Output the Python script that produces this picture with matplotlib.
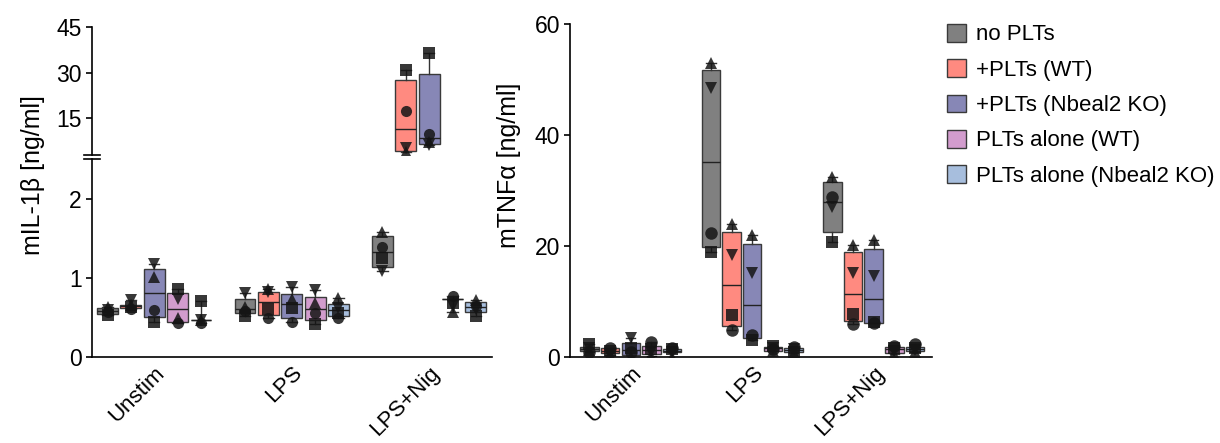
import numpy as np
import matplotlib
matplotlib.use("Agg")
import matplotlib.pyplot as plt
from matplotlib.patches import Patch

plt.rcParams['font.family'] = ['Liberation Sans', 'DejaVu Sans']

conditions = ['Unstim', 'LPS', 'LPS+Nig']
groups = ['no PLTs', '+PLTs (WT)', '+PLTs (Nbeal2 KO)', 'PLTs alone (WT)', 'PLTs alone (Nbeal2 KO)']
colors = ['#808080', '#ff8a80', '#8787b6', '#d29ccd', '#a7bedd']

# IL-1b (ng/ml), rows = condition, columns = group
il1b_sq = [[0.53, 0.63, 0.44, 0.86, 0.70],
           [0.51, 0.60, 0.61, 0.41, 0.55],
           [1.25, 30.9, 36.4, 0.68, 0.51]]
il1b_circ = [[0.57, 0.60, 0.59, 0.43, 0.43],
             [0.58, 0.49, 0.44, 0.55, 0.49],
             [1.39, 17.5, 9.8, 0.77, 0.64]]
il1b_up = [[0.63, 0.65, 1.01, 0.49, 0.47],
           [0.63, 0.86, 0.73, 0.68, 0.74],
           [1.58, 4.0, 7.3, 0.56, 0.72]]
il1b_down = [[0.59, 0.72, 1.17, 0.73, 0.46],
             [0.81, 0.82, 0.88, 0.84, 0.62],
             [1.08, 5.1, 6.2, 0.64, 0.60]]
il1b_q1 = [[0.54, 0.62, 0.50, 0.44, 0.465],
           [0.55, 0.53, 0.49, 0.46, 0.51],
           [1.13, 4.3, 6.5, 0.73, 0.56]]
il1b_med = [[0.58, 0.64, 0.80, 0.60, 0.465],
            [0.60, 0.69, 0.67, 0.60, 0.59],
            [1.32, 11.4, 8.6, 0.73, 0.63]]
il1b_q3 = [[0.61, 0.66, 1.11, 0.80, 0.465],
           [0.73, 0.82, 0.79, 0.75, 0.67],
           [1.53, 27.5, 29.6, 0.73, 0.69]]

# TNFa (ng/ml)
tnf_sq = [[2.3, 1.0, 1.5, 1.4, 1.3],
          [18.9, 7.5, 3.0, 1.9, 0.9],
          [20.7, 7.7, 6.3, 1.5, 1.6]]
tnf_circ = [[0.8, 1.6, 0.8, 2.6, 1.5],
            [22.2, 4.8, 3.9, 1.4, 1.7],
            [28.7, 5.9, 6.0, 1.9, 2.2]]
tnf_up = [[1.2, 0.3, 0.0, 0.2, 0.0],
          [52.9, 24.0, 21.9, 1.0, 0.6],
          [32.4, 20.1, 21.0, 0.5, 0.9]]
tnf_down = [[1.5, 0.5, 3.3, 0.8, 0.9],
            [48.4, 18.3, 15.1, 1.6, 1.3],
            [27.0, 15.0, 14.5, 1.0, 1.2]]
tnf_q1 = [[1.0, 0.6, 0.3, 0.4, 0.8],
          [19.8, 5.6, 3.4, 1.1, 0.8],
          [22.4, 6.4, 6.1, 0.7, 1.0]]
tnf_med = [[1.4, 1.1, 1.2, 1.2, 1.1],
           [35.1, 12.9, 9.4, 1.5, 1.2],
           [27.8, 11.3, 10.4, 1.3, 1.4]]
tnf_q3 = [[1.8, 1.5, 2.4, 1.9, 1.3],
          [51.7, 22.5, 20.3, 1.8, 1.6],
          [31.4, 18.8, 19.4, 1.8, 1.8]]

offsets = np.array([-2, -1, 0, 1, 2]) * 0.17
box_w = 0.152
marker_list = ['s', 'o', '^', 'v']


def draw_boxes(ax, sq, circ, up, down, q1, med, q3, ms, ylo, yhi):
    for ci in range(len(conditions)):
        for gi in range(len(groups)):
            pos = ci + offsets[gi]
            pts = [sq[ci][gi], circ[ci][gi], up[ci][gi], down[ci][gi]]
            # skip boxes that lie completely outside this axis range
            if max(pts) < ylo or min(pts) > yhi:
                continue
            st = dict(med=med[ci][gi], q1=q1[ci][gi], q3=q3[ci][gi],
                      whislo=min(pts), whishi=max(pts), fliers=[])
            ax.bxp([st], positions=[pos], widths=box_w, patch_artist=True,
                   showfliers=False, capwidths=box_w * 0.5,
                   boxprops=dict(facecolor=colors[gi], edgecolor='#3a3a3a', linewidth=1),
                   medianprops=dict(color='#222222', linewidth=1),
                   whiskerprops=dict(color='#333333', linewidth=1),
                   capprops=dict(color='#333333', linewidth=1), zorder=2)
            for m, v in zip(marker_list, pts):
                if ylo <= v <= yhi:
                    ax.plot(pos, v, marker=m, color='#151515', alpha=0.85,
                            markersize=ms, markeredgewidth=0, zorder=3)


fig = plt.figure(figsize=(12.2, 4.43), dpi=100)
W, H = 1220, 443

ax_up = fig.add_axes([91.7 / W, 1 - 155 / H, 400 / W, (155 - 27.3) / H])
ax_lo = fig.add_axes([91.7 / W, 1 - 356.7 / H, 400 / W, (356.7 - 159) / H])
ax_r = fig.add_axes([570 / W, 1 - 356.7 / H, 362 / W, (356.7 - 23.7) / H])

draw_boxes(ax_up, il1b_sq, il1b_circ, il1b_up, il1b_down, il1b_q1, il1b_med, il1b_q3, 8, 2.6, 46)
draw_boxes(ax_lo, il1b_sq, il1b_circ, il1b_up, il1b_down, il1b_q1, il1b_med, il1b_q3, 8, -0.1, 2.6)
draw_boxes(ax_r, tnf_sq, tnf_circ, tnf_up, tnf_down, tnf_q1, tnf_med, tnf_q3, 9, -1, 61)
for ax in (ax_up, ax_lo):
    ax.set_xlim(-0.455, 2.455)
ax_r.set_xlim(-0.5, 2.48)
ax_up.set_ylim(2.9, 45)
ax_up.set_yticks([15, 30, 45])
ax_lo.set_ylim(0, 2.5)
ax_lo.set_yticks([0, 1, 2])
ax_r.set_ylim(0, 60)
ax_r.set_yticks([0, 20, 40, 60])

for ax in (ax_up, ax_lo, ax_r):
    for s in ('top', 'right'):
        ax.spines[s].set_visible(False)
    ax.spines['left'].set_linewidth(1.2)
    ax.spines['bottom'].set_linewidth(1.2)
    ax.tick_params(axis='y', labelsize=16.5, length=4, width=1.2, pad=3)
    ax.tick_params(axis='x', length=0, labelsize=16, pad=4)

ax_up.spines['bottom'].set_visible(False)
ax_up.set_xticks([])

for ax in (ax_lo, ax_r):
    ax.set_xticks(range(len(conditions)))
    ax.set_xticklabels(conditions, rotation=45, ha='right', rotation_mode='anchor')

# axis break marks
for ax, ypos in ((ax_up, 0.0), (ax_lo, 1.0)):
    ax.plot([-0.02, 0.02], [ypos, ypos], transform=ax.transAxes,
            color='black', linewidth=1.2, clip_on=False)

fig.text(33 / W, 1 - 175 / H, 'mIL-1\u03b2 [ng/ml]', rotation=90,
         ha='center', va='center', fontsize=18)
ax_r.set_ylabel('mTNF\u03b1 [ng/ml]', fontsize=18)
ax_r.yaxis.set_label_coords((521 - 570) / 362, (356.7 - 165) / 333)

handles = [Patch(facecolor=c, edgecolor='#3a3a3a', linewidth=1) for c in colors]
fig.legend(handles, groups, loc='upper left', bbox_to_anchor=(938 / W, 1 - 15 / H),
           frameon=False, fontsize=16, handlelength=0.85, handleheight=0.85,
           handletextpad=0.45, labelspacing=0.62, borderaxespad=0)

fig.savefig('out.png', dpi=100)
